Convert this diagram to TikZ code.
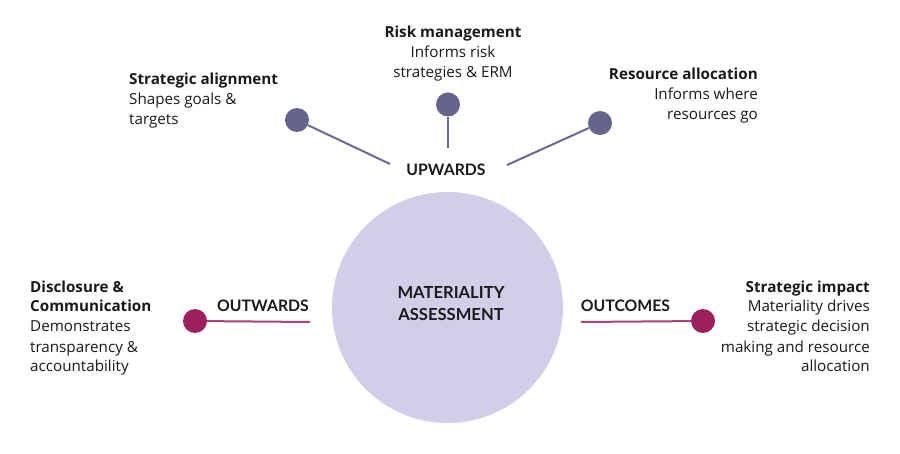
\documentclass[tikz,border=0pt]{standalone}
\usepackage{fontspec}
\setmainfont{Lato}
\newfontfamily\blkfont{Open Sans}
\definecolor{txt}{HTML}{1A1A1A}
\definecolor{circ}{HTML}{D3CDE8}
\definecolor{slate}{HTML}{65658C}
\definecolor{slateline}{HTML}{6A6A90}
\definecolor{magenta}{HTML}{9C1F5E}
\definecolor{magline}{HTML}{B0407A}
\begin{document}
\begin{tikzpicture}[x=1pt,y=-1pt,
  dotU/.style={circle,fill=slate,minimum size=24pt,inner sep=0pt},
  dotO/.style={circle,fill=magenta,minimum size=24pt,inner sep=0pt},
  lineU/.style={draw=slateline,line width=2pt},
  lineO/.style={draw=magline,line width=2pt},
  txtblk/.style={inner sep=0pt,text=txt,font=\blkfont\fontsize{15.2}{20}\selectfont},
  lbl/.style={inner sep=0pt,text=txt,font=\fontsize{15.8}{20}\selectfont\bfseries}]
\useasboundingbox (0,0) rectangle (900,454);
\fill[white] (0,0) rectangle (900,454);
% central circle
\node[circle,fill=circ,minimum size=231pt,inner sep=0pt] (mat) at (447.5,307.5) {};
\node[lbl,align=center,anchor=base,font=\fontsize{16.6}{22}\selectfont\bfseries] (matT) at (451,321) {MATERIALITY\\ASSESSMENT};
% upwards
\node[lbl,anchor=base] (up) at (446,176) {UPWARDS};
\node[dotU] (dL) at (297,120) {};
\node[dotU] (dM) at (448,104.5) {};
\node[dotU] (dR) at (600,123) {};
\coordinate (eL) at (390,164);
\coordinate (eM) at (448,148);
\coordinate (eR) at (507,165);
\draw[lineU] (dL) -- (eL);
\draw[lineU] (dM) -- (eM);
\draw[lineU] (dR) -- (eR);
% outwards
\node[lbl,anchor=base] (outw) at (263,312) {OUTWARDS};
\node[dotO] (dO) at (195,321) {};
\coordinate (eO) at (310,322);
\draw[lineO] (dO) -- (eO);
% outcomes
\node[lbl,anchor=base] (outc) at (625.5,312) {OUTCOMES};
\node[dotO] (dC) at (703,321) {};
\coordinate (eC) at (581,322);
\draw[lineO] (dC) -- (eC);
% text blocks (anchor = baseline of last line)
\node[txtblk,align=left,anchor=base west] (tSA) at (129,125)
  {\textbf{Strategic alignment}\\Shapes goals \&\\targets};
\node[txtblk,align=center,anchor=base] (tRM) at (453,78)
  {\textbf{Risk management}\\Informs risk\\strategies \& ERM};
\node[txtblk,align=right,anchor=base east] (tRA) at (758,120)
  {\textbf{Resource allocation}\\Informs where\\resources go};
\node[txtblk,align=left,anchor=base west] (tDC) at (30,372)
  {\textbf{Disclosure \&}\\\textbf{Communication}\\Demonstrates\\transparency \&\\accountability};
\node[txtblk,align=right,anchor=base east] (tSI) at (870,372)
  {\textbf{Strategic impact}\\Materiality drives\\strategic decision\\making and resource\\allocation};
\end{tikzpicture}
\end{document}
